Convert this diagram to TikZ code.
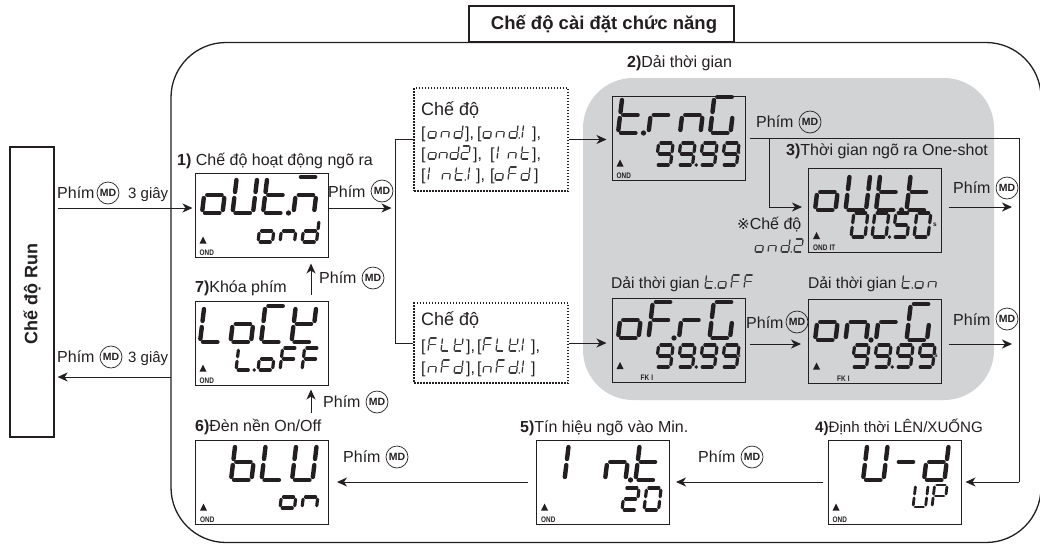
\documentclass[tikz,border=0pt]{standalone}
\usepackage{fontspec}
\setmainfont{Liberation Sans}
\newfontfamily\djv{DejaVu Sans}
\usetikzlibrary{arrows.meta}
\definecolor{panel}{HTML}{D1D3D4}
\definecolor{ink}{HTML}{231F20}
\definecolor{soft}{HTML}{3A3A3A}
% ---------- seven-segment text ----------
\newcount\lcdi
\newcommand\defglyph[2]{\expandafter\def\csname lcdg#1\endcsname{#2}}
\newcommand\lcdline[4]{\draw[line width=\lcdt pt,line cap=round,shorten <=\lcdgap pt,shorten >=\lcdgap pt] (#1,#2)--(#3,#4);}
\def\lcdsega{\lcdline{0}{1}{\lcdw}{1}}
\def\lcdsegb{\lcdline{\lcdw}{1}{\lcdw}{.5}}
\def\lcdsegc{\lcdline{\lcdw}{.5}{\lcdw}{0}}
\def\lcdsegd{\lcdline{0}{0}{\lcdw}{0}}
\def\lcdsege{\lcdline{0}{0}{0}{.5}}
\def\lcdsegf{\lcdline{0}{.5}{0}{1}}
\def\lcdsegg{\lcdline{0}{.5}{\lcdw}{.5}}
\defglyph{o}{c,d,e,g}\defglyph{U}{b,c,d,e,f}\defglyph{t}{d,e,f,g}\defglyph{M}{a,c,e,g}
\defglyph{n}{c,e,g}\defglyph{d}{b,c,d,e,g}\defglyph{r}{e,g}\defglyph{G}{a,c,d,e,f}
\defglyph{F}{a,e,f,g}\defglyph{L}{d,e,f}\defglyph{C}{a,d,e,f}\defglyph{K}{b,d,e,f,g}
\defglyph{b}{c,d,e,f,g}\defglyph{9}{a,b,c,d,f,g}\defglyph{5}{a,c,d,f,g}\defglyph{0}{a,b,c,d,e,f}
\defglyph{2}{a,b,d,e,g}\defglyph{P}{a,b,e,f,g}\defglyph{-}{g}\defglyph{I}{b,c}\defglyph{i}{e,f}
\defglyph{*}{}
\newcommand\lcdglyph[1]{%
  \begin{scope}[xshift={\the\lcdi*\lcdp pt}]
  \edef\lcdlist{\csname lcdg#1\endcsname}%
  \ifx\lcdlist\empty\else
  \foreach \s in \lcdlist {\csname lcdseg\s\endcsname}%
  \fi
  \end{scope}}
\def\lcdparse#1{\ifx#1\relax\else
  \ifx#1.\lcddot\else\lcdglyph{#1}\global\advance\lcdi by 1 \fi
  \expandafter\lcdparse\fi}
\newcommand\lcddot{\fill ({\the\lcdi*\lcdp-(\lcdp-\lcdw)/2},0) circle[radius=\lcdr pt];}
% x, baseline y, cell width, height, pitch, stroke, string
\newcommand\lcd[7]{%
  \begin{scope}[shift={(#1,#2)},x={(1pt,0)},y={(0.12*#4 pt,#4 pt)}]
  \def\lcdw{#3}\def\lcdp{#5}\def\lcdt{#6}%
  \pgfmathsetmacro\lcdgap{0.7*#6}\pgfmathsetmacro\lcdr{0.6*#6}%
  \global\lcdi=0 \lcdparse#7\relax
  \end{scope}}
\newcommand\bigrow[3]{\lcd{#1}{#2}{20.5}{36}{30.5}{4.4}{#3}}
\newcommand\smallrow[3]{\lcd{#1}{#2}{14.5}{22}{22}{3.2}{#3}}
\newcommand\segs[3]{\begin{scope}[color=soft]\lcd{#1}{#2}{7.5}{13}{13}{1.3}{#3}\end{scope}}
% ---------- labels ----------
\newcommand\phim[5]{\node[lbl] (#1t) at (#2,#3) {Phím}; \node[md] (#1m) at (#4,#5) {MD};}
\newcommand\lcdmarks[2]{%
  \fill[ink] ([xshift=5pt,yshift=14pt]#1.south west) -- ([xshift=12pt,yshift=14pt]#1.south west) -- ([xshift=8.5pt,yshift=21pt]#1.south west) -- cycle;
  \node[tag] (#1o) at ([xshift=5pt,yshift=2pt]#1.south west) {\scalebox{.8}[1]{#2}};}
\tikzset{
  lbl/.style={anchor=base west,inner sep=0pt,font=\fontsize{16}{18}\selectfont,text=ink},
  md/.style={circle,draw=ink,line width=.7pt,minimum size=22pt,inner sep=0pt,font=\fontsize{10.5}{12}\bfseries\selectfont,text=ink},
  disp/.style={draw=ink,line width=1pt,minimum width=133pt,minimum height=84pt,inner sep=0pt},
  tag/.style={anchor=south west,inner sep=0pt,font=\fontsize{8}{8}\bfseries\selectfont,text=ink},
  arr/.style={draw=ink,line width=1pt,-{Stealth[length=10pt,width=9pt,inset=3pt]}},
  con/.style={draw=ink,line width=1pt},
  dotbox/.style={draw=ink,line width=1.2pt,dash pattern=on 1.5pt off 1.5pt,minimum width=154pt,inner sep=0pt},
  unit/.style={inner sep=0pt,font=\fontsize{6.5}{7}\bfseries\selectfont,text=ink}
}
\begin{document}
\begin{tikzpicture}[x=1pt,y=-1pt,color=ink]
\useasboundingbox (0,0) rectangle (1040,544);
% frames
\node[draw=ink,line width=1.3pt,rounded corners=55pt,minimum width=870pt,minimum height=500pt,inner sep=0pt] (outer) at (606,292.5) {};
\node[fill=panel,rounded corners=50pt,minimum width=411pt,minimum height=322pt,inner sep=0pt] (panel) at (788.5,239) {};
\node[draw=ink,line width=1.4pt,fill=white,minimum width=265pt,minimum height=36pt,inner sep=0pt,font=\fontsize{18.5}{20}\bfseries\selectfont,text=ink] (title) at (601.5,24) {\hspace{5pt}Chế độ cài đặt chức năng};
\node[draw=ink,line width=1.3pt,minimum width=44pt,minimum height=290pt,inner sep=0pt] (run) at (32,292) {};
\node[rotate=90,inner sep=0pt,font=\fontsize{18}{20}\bfseries\selectfont,text=ink] (runt) at (32,294) {Chế độ Run};
% displays
\node[disp] (d1) at (261.5,215) {};
\node[disp] (d7) at (261.5,343) {};
\node[disp] (d6) at (262,482) {};
\node[disp] (d5) at (603,482) {};
\node[disp] (d4) at (894.5,482) {};
\node[disp] (d2) at (678.5,138) {};
\node[disp] (d3) at (875,210.5) {};
\node[disp] (dof) at (678.5,340.5) {};
\node[disp] (don) at (875,341) {};
% dotted boxes
\node[dotbox,minimum height=103pt] (b1) at (491,139.5) {};
\node[dotbox,minimum height=80pt] (b2) at (491,343) {};
% connector points
\coordinate (st) at (395,139.5);
\coordinate (sb) at (395,343);
\coordinate (sm) at (395,208);
\coordinate (rt) at (1019,138);
\coordinate (rb) at (1019,482);
\coordinate (br) at (769,138);
\coordinate (bd) at (769,207);
\coordinate (o1) at (1012,207);
\coordinate (o2) at (1012,344);
\coordinate (bx) at (171,377);
% connectors
\draw[arr,shorten <=3pt,shorten >=2pt] ([yshift=84pt]run.east) -- ([yshift=7pt]d1.west);
\draw[arr] ([yshift=7pt]d1.east) -- ([xshift=-3.5pt]sm);
\draw[con] (b1.west) -- (st) -- (sb) -- (b2.west);
\draw[arr,shorten >=5pt] (b1.east) -- (d2.west |- b1.east);
\draw[arr,shorten >=5pt] (b2.east) -- (dof.west |- b2.east);
\draw[con,shorten <=4pt] (d2.east) -- (rt) -- (rb);
\draw[arr,shorten >=4pt] (rb) -- (d4.east |- rb);
\draw[arr,shorten >=6pt] (br) -- (bd) -- (d3.west |- bd);
\draw[arr,shorten <=7pt] (d3.east |- o1) -- (o1);
\draw[arr,shorten <=4pt,shorten >=7pt] (dof.east |- o2) -- (don.west |- o2);
\draw[arr,shorten <=7pt] (don.east |- o2) -- (o2);
\draw[arr,shorten <=5pt,shorten >=6pt] (d4.west) -- (d5.east);
\draw[arr,shorten <=8pt,shorten >=8pt] (d5.west) -- (d6.east);
\draw[arr,shorten >=4pt] ([xshift=49.5pt,yshift=-27pt]d7.south) -- ([xshift=49.5pt]d7.south);
\draw[arr,shorten >=6pt] ([xshift=49.5pt,yshift=6pt]d7.north) -- ([xshift=49.5pt]d1.south);
\draw[arr,shorten >=3pt] (bx) -- (run.east |- bx);
% captions
\node[lbl] (c1) at (177,165) {\textbf{1)} Chế độ hoạt động ngõ ra};
\node[lbl] (c7) at (195,292) {\textbf{7)}Khóa phím};
\node[lbl] (c6) at (195,431) {\textbf{6)}Đèn nền On/Off};
\node[lbl] (c5) at (520,432) {\textbf{5)}Tín hiệu ngõ vào Min.};
\node[lbl,font=\fontsize{15.1}{18}\selectfont] (c4) at (815,432) {\textbf{4)}Định thời LÊN/XUỐNG};
\node[lbl] (c2) at (627,67) {\textbf{2)}Dải thời gian};
\node[lbl] (c3) at (786,155) {\textbf{3)}Thời gian ngõ ra One-shot};
\node[lbl,font=\fontsize{15.6}{18}\selectfont] (cf) at (611,288) {Dải thời gian};
\node[lbl,font=\fontsize{15.6}{18}\selectfont] (cn) at (808,288) {Dải thời gian};
\node[lbl] (cs) at (737,229) {{\djv\fontsize{15}{15}\selectfont ※}Chế độ};
% key labels
\phim{a}{57}{198}{108}{193}
\node[lbl,font=\fontsize{15}{18}\selectfont] (a3) at (128,198) {3 giây};
\phim{b}{328}{197}{382}{191}
\phim{c}{319}{283}{373}{278}
\phim{d}{57}{362}{111}{357}
\node[lbl,font=\fontsize{15}{18}\selectfont] (d3t) at (128,362) {3 giây};
\phim{e}{323}{407}{377}{402}
\phim{f}{343}{462}{397}{457}
\phim{g}{698}{462}{752}{457}
\phim{h}{756}{127}{810}{122}
\phim{i}{953}{193}{1007}{188}
\phim{j}{746}{328}{797}{322}
\phim{k}{953}{325}{1007}{319}
% box texts
\node[lbl,font=\fontsize{18}{20}\selectfont] (b1t) at (421,115) {Chế độ};
\node[lbl,font=\fontsize{18}{20}\selectfont] (b2t) at (421,325) {Chế độ};
\node[lbl] (b1a) at (421,138) {[}; \segs{428}{138}{ond} \node[lbl] (b1b) at (465,138) {],};
\node[lbl] (b1c) at (477,138) {[}; \segs{483}{138}{ond.i} \node[lbl] (b1d) at (532,138) {],};
\node[lbl] (b1e) at (421,159) {[}; \segs{428}{159}{o} \segs{439}{159}{n} \segs{450}{159}{d} \segs{461}{159}{2} \node[lbl] (b1f) at (473,159) {],};
\node[lbl] (b1g) at (490,159) {[}; \segs{497}{159}{i} \segs{508}{159}{nt} \node[lbl] (b1h) at (532,159) {],};
\node[lbl] (b1i) at (421,180) {[}; \segs{428}{180}{i} \segs{442}{180}{nt.i} \node[lbl] (b1j) at (476,180) {],};
\node[lbl] (b1k) at (490,180) {[}; \segs{495}{180}{oFd} \node[lbl] (b1l) at (534,180) {]};
\node[lbl] (b2a) at (421,351) {[}; \segs{428}{351}{FLK} \node[lbl] (b2b) at (466,351) {],};
\node[lbl] (b2c) at (477,351) {[}; \segs{483}{351}{FLK.i} \node[lbl] (b2d) at (531,351) {],};
\node[lbl] (b2e) at (421,373) {[}; \segs{428}{373}{nFd} \node[lbl] (b2f) at (466,373) {],};
\node[lbl] (b2g) at (477,373) {[}; \segs{483}{373}{nFd.i} \node[lbl] (b2h) at (531,373) {]};
\segs{705}{288}{t.oFF}
\segs{902}{288}{t.on}
\segs{755}{252}{ond.2}
% display contents
\bigrow{202}{213}{oUt.M} \smallrow{258}{242}{ond}
\lcdmarks{d1}{OND}
\bigrow{200}{342}{LoCK} \smallrow{236}{370}{L.oFF}
\lcdmarks{d7}{OND}
\bigrow{231}{480}{bLU} \smallrow{280}{508}{on}
\lcdmarks{d6}{OND}
\bigrow{544}{480}{I*n.t} \smallrow{622}{510}{20}
\lcdmarks{d5}{OND}
\bigrow{863}{480}{U-d} \lcd{913}{507}{12.5}{22}{19}{2.8}{UP}
\lcdmarks{d4}{OND}
\bigrow{618}{133}{t.r} \bigrow{680}{133}{n} \bigrow{710}{133}{G} \smallrow{656}{165}{99.99}
\lcdmarks{d2}{OND}
\bigrow{815}{210}{oUt.t} \lcd{851}{237}{14}{24}{21}{3.2}{00.50}
\lcdmarks{d3}{OND\,\,IT}
\bigrow{618}{338}{oF.rG} \smallrow{656}{367}{99.99}
\lcdmarks{dof}{}
\node[tag] (foa) at ([xshift=29pt,yshift=2pt]dof.south west) {\scalebox{.8}[1]{FK\,\,I}};
\bigrow{815}{340}{on.rG} \smallrow{852}{367}{99.99}
\lcdmarks{don}{}
\node[tag] (fob) at ([xshift=29pt,yshift=2pt]don.south west) {\scalebox{.8}[1]{FK\,\,I}};
\node[unit] (u1) at (739,153) {s};
\node[unit] (u2) at (935,225) {s};
\node[unit] (u3) at (739,356) {s};
\node[unit] (u4) at (936,356) {s};
\end{tikzpicture}
\end{document}
